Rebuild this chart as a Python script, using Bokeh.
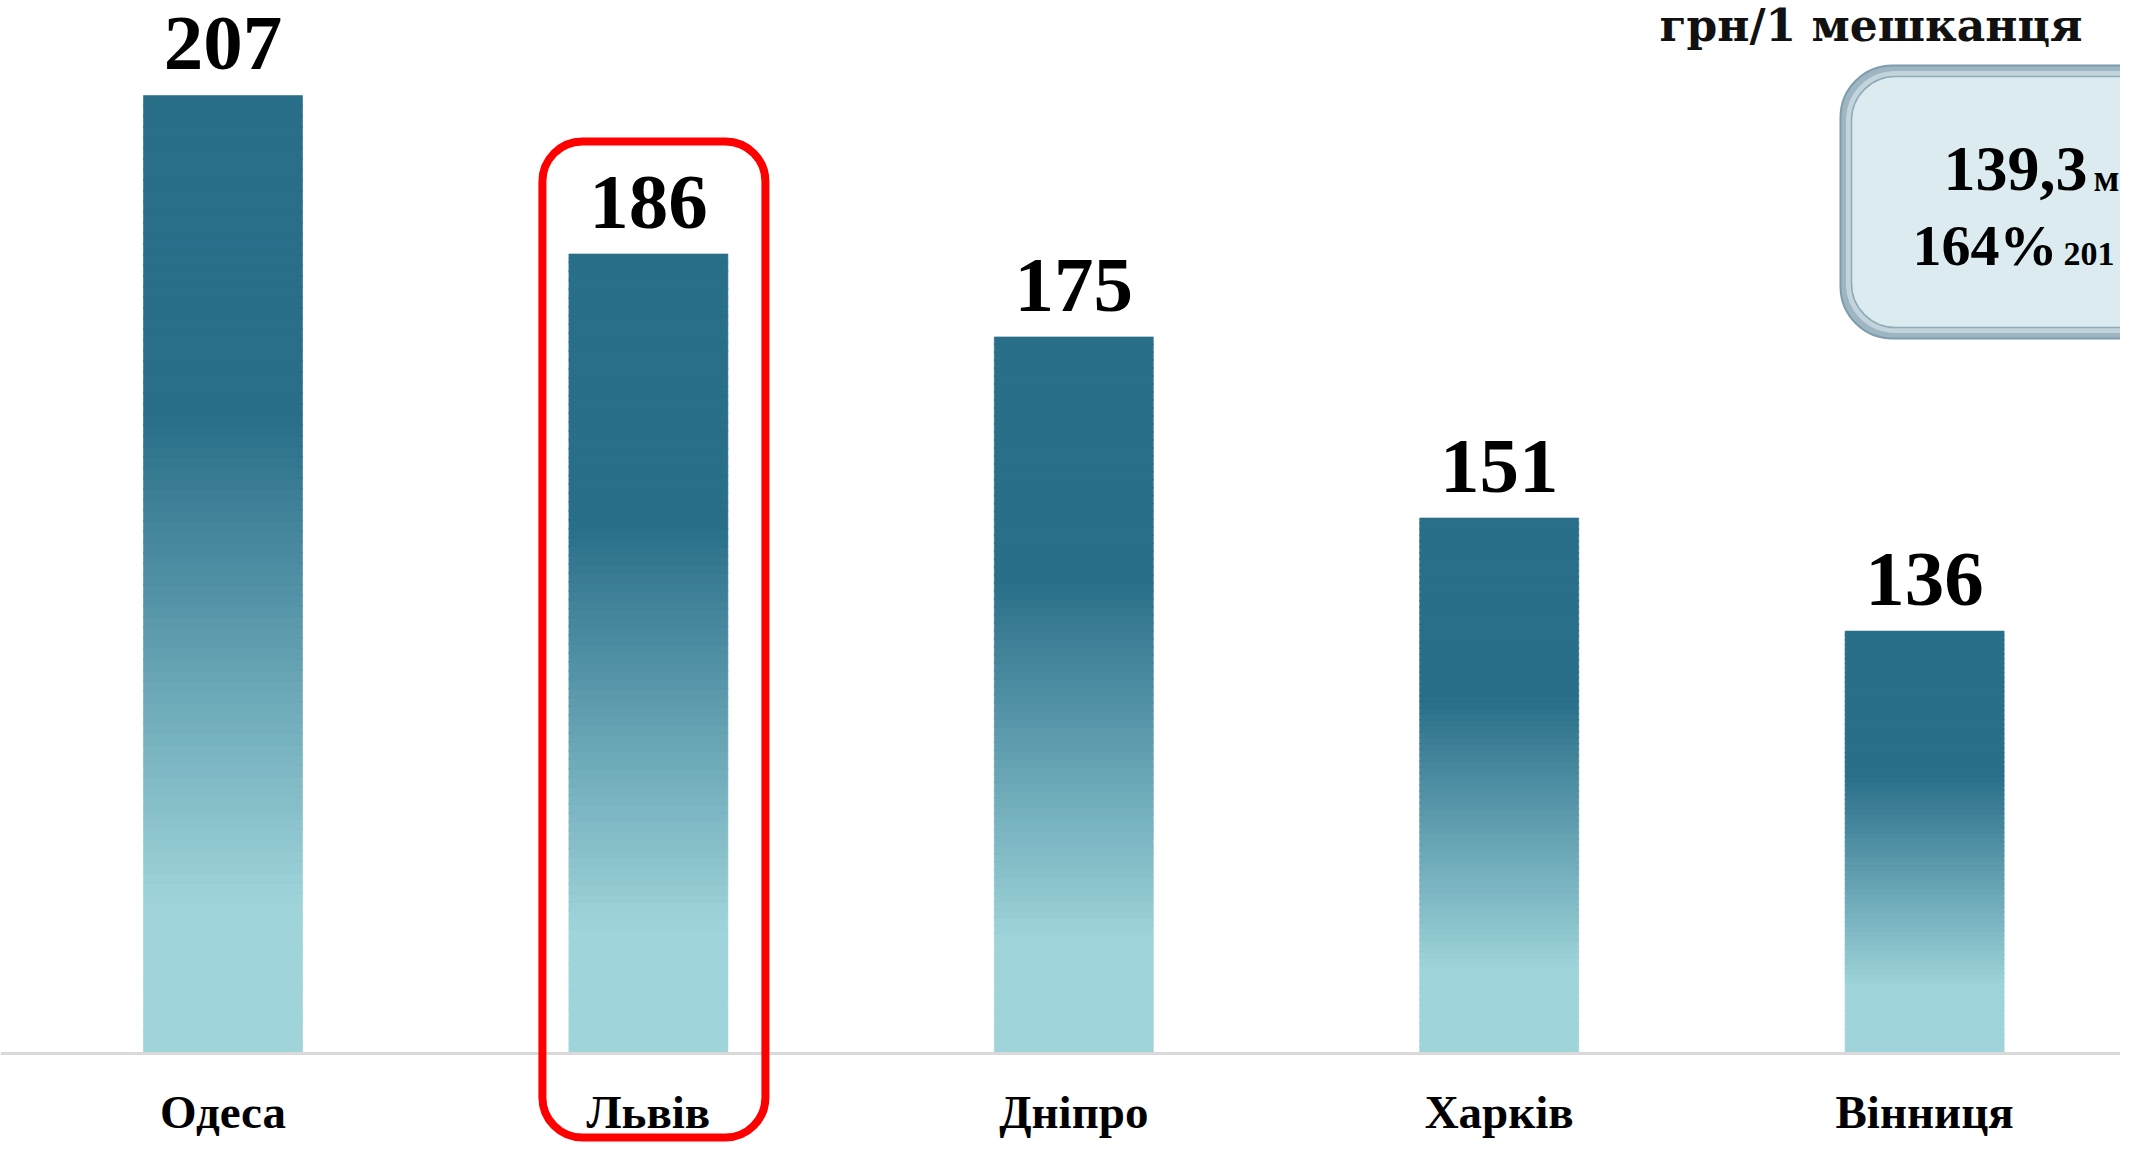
from bokeh.plotting import figure
from bokeh.models import Range1d, Span, BoxAnnotation, ColumnDataSource
from bokeh.core.properties import value
from bokeh.embed import file_html
from bokeh.resources import INLINE
import numpy as np

# ---- data ----
categories = ["Одеса", "Львів", "Дніпро", "Харків", "Вінниця"]
values = [207, 186, 175, 151, 136]
value_labels = ["207", "186", "175", "151", "136"]
unit_title = "грн/1 мешканця"
box_main = "139,3"
box_main_unit = "м"
box_pct = "164%"
box_pct_tail = "201"
highlight = "Львів"
axis_start = 80

# ---- layout ----
W, H = 2120, 1142
X0_PX, X_UNIT = 222.5, 425.4      # pixel of first category centre, pixels per category
BASE_PX, K = 1053.0, 7.543        # pixel of baseline, pixels per value unit
BL = 0.34                         # baseline compensation (fraction of font size)
x_start = -X0_PX / X_UNIT
x_end = (W - X0_PX) / X_UNIT
y_end = axis_start + BASE_PX / K
y_start = axis_start - (H - BASE_PX) / K


def xp(px):
    return x_start + px / X_UNIT


def yp(py):
    return y_end - py / K


def ty(baseline_px, fs):
    return yp(baseline_px - BL * fs)


p = figure(width=W, height=H, output_backend="svg", toolbar_location=None,
           x_range=Range1d(x_start, x_end), y_range=Range1d(y_start, y_end),
           min_border=0, outline_line_color=None)
p.axis.visible = False
p.grid.visible = False
p.background_fill_color = "white"
p.border_fill_color = "white"

# baseline
p.add_layout(Span(location=axis_start, dimension="width", line_color="#d9d9d9", line_width=3))

# gradient bars (sliced quads)
light = np.array([0x9f, 0xd4, 0xda], dtype=float)
dark = np.array([0x2a, 0x6f, 0x8a], dtype=float)
f_lo, f_hi = 0.157, 0.658
N = 90
bar_w = 159 / X_UNIT
L, R, T, B, C = [], [], [], [], []
for i, v in enumerate(values):
    h = v - axis_start
    for j in range(N):
        f0 = j / N
        f1 = (j + 1) / N
        fm = (f0 + f1) / 2
        t = min(max((fm - f_lo) / (f_hi - f_lo), 0), 1)
        c = light + t * (dark - light)
        L.append(i - bar_w / 2)
        R.append(i + bar_w / 2)
        B.append(axis_start + f0 * h)
        T.append(min(axis_start + f1 * h + 0.15, v))
        C.append("#%02x%02x%02x" % tuple(int(round(x)) for x in c))
src = ColumnDataSource(dict(left=L, right=R, top=T, bottom=B, color=C))
p.quad(left="left", right="right", top="top", bottom="bottom", source=src,
       fill_color="color", line_color="color", line_width=0.6)

xs = list(range(len(categories)))
VFS = 79
lab = ColumnDataSource(dict(x=xs, y=[v + (25 + BL * VFS) / K for v in values], t=value_labels))
p.text(x="x", y="y", text="t", source=lab, text_font=value("Liberation Serif"),
       text_font_style="bold", text_font_size=f"{VFS}px", text_align="center",
       text_baseline="alphabetic", text_color="black")

CFS = 47
cat = ColumnDataSource(dict(x=xs, y=[ty(1127, CFS)] * len(xs), t=categories))
p.text(x="x", y="y", text="t", source=cat, text_font=value("Liberation Serif"),
       text_font_style="bold", text_font_size=f"{CFS}px", text_align="center",
       text_baseline="alphabetic", text_color="black")

# highlight box around Львів
hi = categories.index(highlight)
hx = X0_PX + hi * X_UNIT
p.add_layout(BoxAnnotation(left=xp(hx - 106), right=xp(hx + 117), top=yp(141), bottom=yp(1137),
                           fill_alpha=0, line_color="#ff0000", line_alpha=1, line_width=8,
                           border_radius=40))

# unit title
p.text(x=[xp(1659)], y=[ty(40, 44)], text=[unit_title], text_font=value("DejaVu Serif"),
       text_font_style="bold", text_font_size="44px", text_align="left",
       text_baseline="alphabetic", text_color="#111111")

# info box (top right)
p.add_layout(BoxAnnotation(left=xp(1840), right=xp(2200), top=yp(65), bottom=yp(338),
                           fill_color="#9db6c2", fill_alpha=1, line_color="#7e9cab", line_alpha=1,
                           line_width=2, border_radius=52, level="underlay"))
p.add_layout(BoxAnnotation(left=xp(1846), right=xp(2200), top=yp(71), bottom=yp(332),
                           fill_color="#c2d4dc", fill_alpha=1, line_color="#c2d4dc", line_alpha=1,
                           line_width=1, border_radius=48, level="underlay"))
p.add_layout(BoxAnnotation(left=xp(1851), right=xp(2200), top=yp(76), bottom=yp(327),
                           fill_color="#dbebef", fill_alpha=1, line_color="#8fabb8", line_alpha=1,
                           line_width=1.5, border_radius=44, level="underlay"))

p.text(x=[xp(1943)], y=[ty(190, 64)], text=[box_main], text_font=value("Liberation Serif"),
       text_font_style="bold", text_font_size="64px", text_align="left",
       text_baseline="alphabetic", text_color="black")
p.text(x=[xp(2093)], y=[ty(190, 38)], text=[box_main_unit], text_font=value("Liberation Serif"),
       text_font_style="bold", text_font_size="38px", text_align="left",
       text_baseline="alphabetic", text_color="black")
p.text(x=[xp(1912)], y=[ty(265, 58)], text=[box_pct], text_font=value("Liberation Serif"),
       text_font_style="bold", text_font_size="58px", text_align="left",
       text_baseline="alphabetic", text_color="black")
p.text(x=[xp(2063)], y=[ty(265, 34)], text=[box_pct_tail], text_font=value("Liberation Serif"),
       text_font_style="bold", text_font_size="34px", text_align="left",
       text_baseline="alphabetic", text_color="black")

open("out.html", "w").write(file_html(p, INLINE))
